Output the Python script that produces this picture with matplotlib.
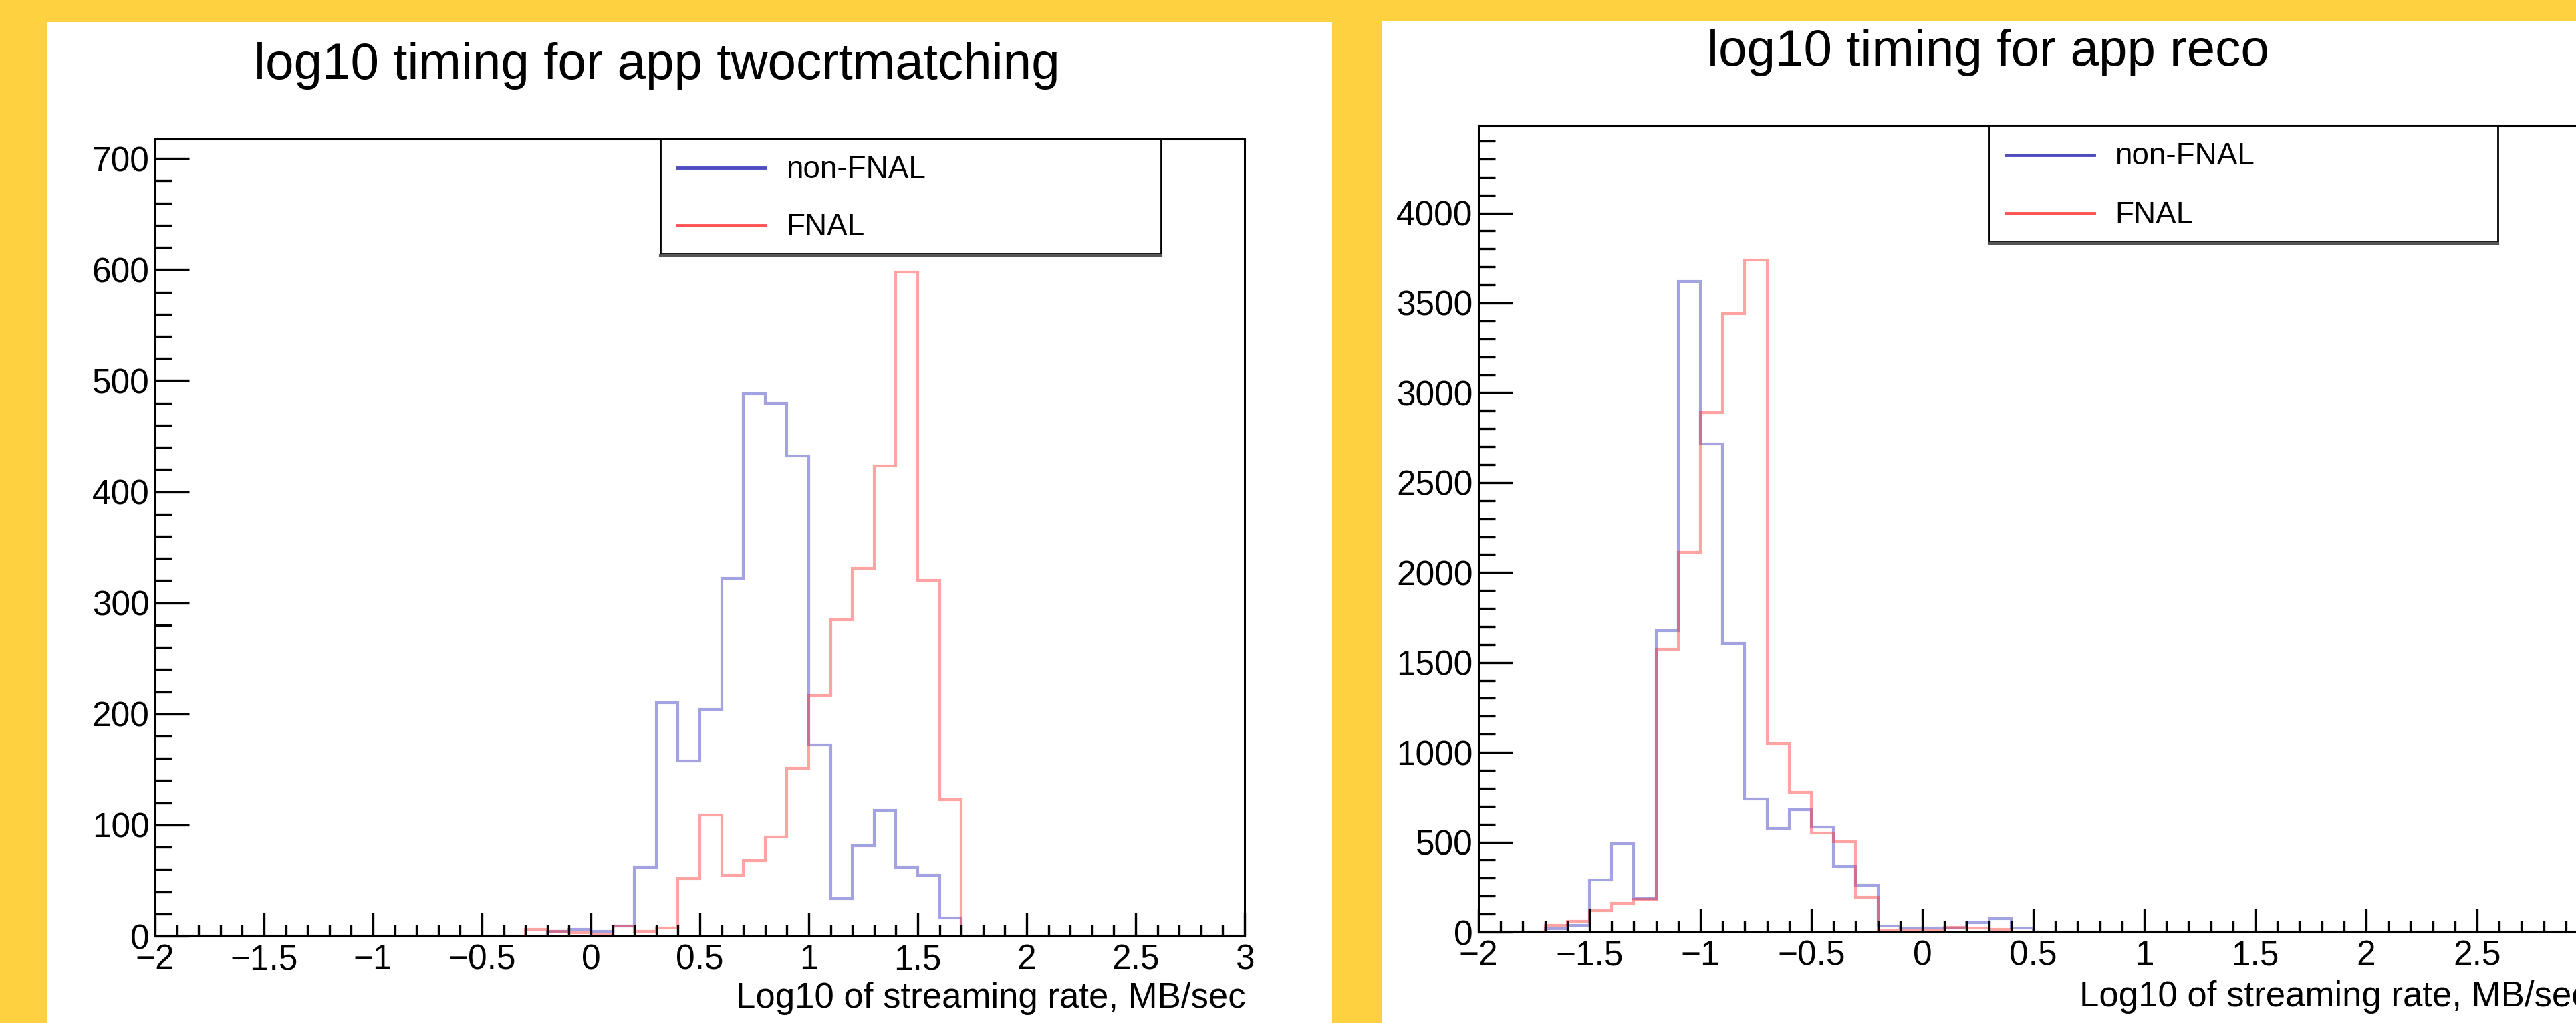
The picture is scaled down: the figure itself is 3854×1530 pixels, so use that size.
import numpy as np
import matplotlib.pyplot as plt
from matplotlib.patches import Rectangle
from matplotlib.lines import Line2D
from matplotlib.ticker import MultipleLocator

plt.rcParams['font.family'] = ['Liberation Sans', 'DejaVu Sans']

# bin edges: 50 bins of 0.1 from -2 to 3
edges = np.linspace(-2, 3, 51)

# app twocrtmatching
twocrt_nonfnal = [0, 0, 0, 0, 0, 0, 0, 0, 0, 0,
                  0, 0, 0, 0, 0, 0, 0, 0, 4, 6,
                  4, 9, 62, 210, 158, 204, 322, 488, 480, 432,
                  172, 34, 81, 113, 62, 55, 16, 0, 0, 0,
                  0, 0, 0, 0, 0, 0, 0, 0, 0, 0]
twocrt_fnal = [0, 0, 0, 0, 0, 0, 0, 0, 0, 0,
               0, 0, 0, 0, 0, 0, 0, 6, 4, 3,
               2, 9, 4, 7, 52, 109, 55, 68, 89, 151,
               217, 285, 331, 423, 598, 320, 123, 0, 0, 0,
               0, 0, 0, 0, 0, 0, 0, 0, 0, 0]

# app reco
reco_nonfnal = [0, 0, 0, 18, 37, 290, 490, 186, 1679, 3619,
                2714, 1608, 741, 578, 680, 585, 366, 262, 33, 22,
                22, 22, 52, 74, 22, 0, 0, 0, 0, 0,
                0, 0, 0, 0, 0, 0, 0, 0, 0, 0,
                0, 0, 0, 0, 0, 0, 0, 0, 0, 0]
reco_fnal = [0, 0, 0, 37, 60, 119, 160, 184, 1575, 2111,
             2889, 3440, 3738, 1050, 778, 552, 503, 195, 11, 6,
             6, 26, 22, 15, 0, 0, 0, 0, 0, 0,
             0, 0, 0, 0, 0, 0, 0, 0, 0, 0,
             0, 0, 0, 0, 0, 0, 0, 0, 0, 0]

labels = ['non-FNAL', 'FNAL']
xlabel = 'Log10 of streaming rate, MB/sec'

W, H = 3855, 1530
BG = '#fdd13f'
BLUE = (0.2, 0.2, 0.75)
RED = (1.0, 0.2, 0.2)


def fx(x):
    return x / W


def fy(y):
    return 1 - y / H


fig = plt.figure(figsize=(W / 100, H / 100), dpi=100)
fig.patch.set_facecolor(BG)

# white pads
fig.add_artist(Rectangle((fx(70), 0), fx(1993 - 70), fy(33), transform=fig.transFigure,
                         facecolor='white', edgecolor='none', zorder=0))
fig.add_artist(Rectangle((fx(2068), 0), fx(W - 2068), fy(32), transform=fig.transFigure,
                         facecolor='white', edgecolor='none', zorder=0))


def draw_panel(box, nonfnal, fnal, ymajor, yminor, title, title_xy, xlabel_xy, legend_box):
    x0, y0, x1, y1 = box
    ax = fig.add_axes([fx(x0), fy(y1), fx(x1 - x0), (y1 - y0) / H])
    ax.set_facecolor('none')
    ax.stairs(nonfnal, edges, baseline=0, color=BLUE, alpha=0.45, lw=3)
    ax.stairs(fnal, edges, baseline=0, color=RED, alpha=0.45, lw=3)
    ax.set_xlim(-2, 3)
    ax.set_ylim(0, 1.2 * max(max(nonfnal), max(fnal)))

    ax.xaxis.set_major_locator(MultipleLocator(0.5))
    ax.xaxis.set_minor_locator(MultipleLocator(0.1))
    ax.yaxis.set_major_locator(MultipleLocator(ymajor))
    ax.yaxis.set_minor_locator(MultipleLocator(yminor))
    ax.xaxis.set_major_formatter(plt.FuncFormatter(lambda v, p: f'{v:g}'.replace('-', '\u2212')))
    ax.tick_params(axis='both', which='both', direction='in', top=False, right=False,
                   width=2.4, colors='black', labelsize=37)
    ax.tick_params(axis='x', which='major', length=25, pad=8)
    ax.tick_params(axis='x', which='minor', length=12)
    ax.tick_params(axis='y', which='major', length=37, pad=6)
    ax.tick_params(axis='y', which='minor', length=18)
    for s in ax.spines.values():
        s.set_linewidth(2.2)

    fig.text(fx(title_xy[0]), fy(title_xy[1]), title, ha='center', va='baseline', fontsize=55)
    fig.text(fx(xlabel_xy[0]), fy(xlabel_xy[1]), xlabel, ha='right', va='baseline', fontsize=38)

    # legend box in ROOT style
    lx0, ly0, lx1, ly1 = legend_box
    fig.add_artist(Rectangle((fx(lx0), fy(ly1)), fx(lx1 - lx0), (ly1 - ly0) / H,
                             transform=fig.transFigure, facecolor='white',
                             edgecolor='black', lw=2, zorder=5))
    fig.add_artist(Line2D([fx(lx0), fx(lx1)], [fy(ly1 + 2), fy(ly1 + 2)], transform=fig.transFigure,
                          color='#555555', lw=3, zorder=5))
    hgt = ly1 - ly0
    for k, (lab, col) in enumerate(zip(labels, [(0.3, 0.3, 0.75), (1.0, 0.33, 0.33)])):
        yy = ly0 + hgt * (0.25 + 0.5 * k)
        fig.add_artist(Line2D([fx(lx0 + 25), fx(lx0 + 157)], [fy(yy), fy(yy)],
                              transform=fig.transFigure, color=col, lw=3.5, zorder=6))
        fig.text(fx(lx0 + 188), fy(yy + 3), lab, ha='left', va='center', fontsize=33, zorder=6)
    return ax


draw_panel((232, 208, 1862, 1400), twocrt_nonfnal, twocrt_fnal, 100, 20,
           'log10 timing for app twocrtmatching', (983, 118), (1864, 1507),
           (988, 208, 1737, 380))
draw_panel((2212, 188, 3872, 1394), reco_nonfnal, reco_fnal, 500, 100,
           'log10 timing for app reco', (2974, 98), (3874, 1505),
           (2976, 188, 3737, 362))

fig.savefig('out.png', dpi=100, facecolor=BG)
